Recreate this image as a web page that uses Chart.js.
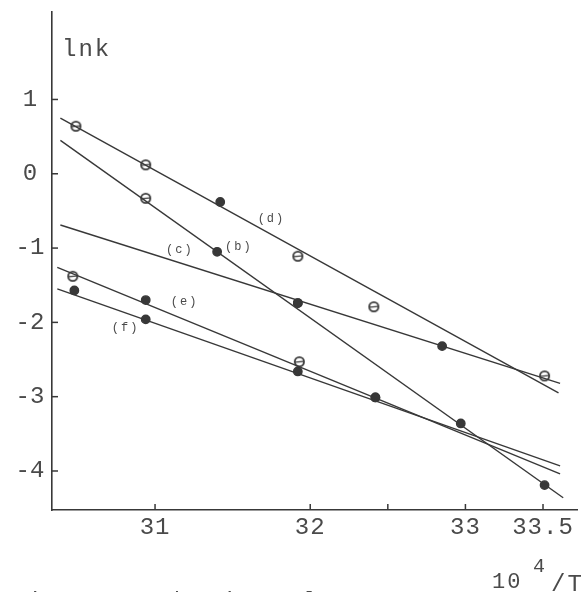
<!DOCTYPE html>
<html>
<head>
<meta charset="utf-8">
<script src="https://cdn.jsdelivr.net/npm/chart.js@4/dist/chart.umd.min.js"></script>
<style>
  html, body { margin: 0; padding: 0; background: #fff; }
  #wrap { width: 585px; height: 592px; }
</style>
</head>
<body>
<div id="wrap"><canvas id="myChart" width="585" height="592"></canvas></div>
<script>
// measured points, x = 10^4/T, y = lnk
var dX = [30.49, 30.94, 31.42, 31.92, 32.41];
var dY = [0.64, 0.12, -0.38, -1.11, -1.79];
var bX = [30.94, 31.40, 31.92, 32.97, 33.51];
var bY = [-0.33, -1.05, -1.74, -3.36, -4.19];
var cX = [31.92, 32.85, 33.51];
var cY = [-1.74, -2.32, -2.72];
var eX = [30.47, 30.94, 31.93, 32.42];
var eY = [-1.38, -1.70, -2.53, -3.01];
var fX = [30.48, 30.94, 31.92, 32.42];
var fY = [-1.57, -1.96, -2.66, -3.01];

// drawn straight lines, start and end
var dLine = [[30.39, 0.75], [33.60, -2.95]];
var bLine = [[30.39, 0.45], [33.63, -4.36]];
var cLine = [[30.39, -0.69], [33.61, -2.82]];
var eLine = [[30.37, -1.26], [33.61, -4.04]];
var fLine = [[30.37, -1.55], [33.61, -3.93]];

// curve labels and where they sit (data units)
var curveNames = ['(d)', '(c)', '(b)', '(e)', '(f)'];
var curveNameX = [31.75, 31.16, 31.54, 31.19, 30.81];
var curveNameY = [-0.60, -1.03, -0.99, -1.73, -2.08];

var xTicks = [31, 32, 32.5, 33, 33.5];
var xTickLabels = ['31', '32', '', '33', '33.5'];
var yTicks = [1, 0, -1, -2, -3, -4];
var yTickLabels = ['1', '0', '-1', '-2', '-3', '-4'];

// open (hollow) markers
var dOpen = [true, true, false, true, true];
var bOpen = [true, false, false, false, false];
var cOpen = [false, false, true];
var eOpen = [true, false, true, false];
var fOpen = [false, false, false, false];

var ink = '#383838';
var textInk = '#4a4a4a';
var mono = '"Liberation Mono", "DejaVu Sans Mono", monospace';

// hollow marker with a bar through it, like the typed theta on the paper
function makeHollow() {
    var c = document.createElement('canvas');
    c.width = 13; c.height = 13;
    var g = c.getContext('2d');
    g.strokeStyle = ink;
    g.fillStyle = '#fff';
    g.lineWidth = 1.8;
    g.beginPath();
    g.arc(6.5, 6.5, 4.6, 0, Math.PI * 2);
    g.fill();
    g.stroke();
    g.lineWidth = 1.2;
    g.beginPath();
    g.moveTo(2.5, 6.8);
    g.lineTo(10.5, 6.2);
    g.stroke();
    return c;
}
var hollow = makeHollow();

function pts(xs, ys) {
    return xs.map(function (x, i) { return { x: x, y: ys[i] }; });
}

function pointSet(xs, ys, open) {
    return {
        data: pts(xs, ys),
        showLine: false,
        pointStyle: open.map(function (o) { return o ? hollow : 'circle'; }),
        pointRadius: 4.2,
        pointBorderWidth: 1.4,
        pointBorderColor: ink,
        pointBackgroundColor: ink
    };
}

function lineSet(ends) {
    return {
        data: ends.map(function (p) { return { x: p[0], y: p[1] }; }),
        showLine: true,
        pointRadius: 0,
        borderColor: ink,
        borderWidth: 1.4
    };
}

var paper = {
    id: 'paper',
    afterDraw: function (chart) {
        var ctx = chart.ctx;
        var xs = chart.scales.x, ys = chart.scales.y;
        var area = chart.chartArea;
        ctx.save();
        ctx.strokeStyle = ink;
        ctx.lineWidth = 1.5;

        // inward tick marks
        yTicks.forEach(function (v) {
            var py = ys.getPixelForValue(v);
            ctx.beginPath();
            ctx.moveTo(area.left, py);
            ctx.lineTo(area.left + 6, py);
            ctx.stroke();
        });
        xTicks.forEach(function (v) {
            var px = xs.getPixelForValue(v);
            ctx.beginPath();
            ctx.moveTo(px, area.bottom);
            ctx.lineTo(px, area.bottom - 6);
            ctx.stroke();
        });

        ctx.fillStyle = textInk;
        ctx.font = '24px ' + mono;
        ctx.textAlign = 'center';
        ctx.textBaseline = 'middle';
        yTicks.forEach(function (v, i) {
            ctx.fillText(yTickLabels[i], 30, ys.getPixelForValue(v));
        });
        ctx.letterSpacing = '1px';
        xTicks.forEach(function (v, i) {
            ctx.fillText(xTickLabels[i], xs.getPixelForValue(v), area.bottom + 18);
        });

        // axis titles
        ctx.textAlign = 'left';
        ctx.textBaseline = 'alphabetic';
        ctx.letterSpacing = '2px';
        ctx.fillText('lnk', area.left + 10, area.top + 44);

        ctx.font = '22px ' + mono;
        ctx.fillText('10', 492, 588);
        ctx.font = '20px ' + mono;
        ctx.fillText('4', 533, 572);
        ctx.font = '24px ' + mono;
        ctx.fillText('/T', 551, 591);

        // caption, mostly below the bottom edge
        ctx.font = '22px ' + mono;
        ctx.letterSpacing = '3px';
        ctx.fillText('Fig.6  Arrhenius plots', 12, 607);

        // curve names
        ctx.font = '12px ' + mono;
        ctx.letterSpacing = '2px';
        ctx.textAlign = 'center';
        ctx.textBaseline = 'middle';
        curveNames.forEach(function (n, i) {
            ctx.fillText(n, xs.getPixelForValue(curveNameX[i]), ys.getPixelForValue(curveNameY[i]));
        });
        ctx.restore();
    }
};

document.addEventListener('DOMContentLoaded', function () {
    var ctx1 = document.getElementById('myChart').getContext('2d');

    var myChart1 = new Chart(ctx1, {
        type: 'scatter',
        data: {
            datasets: [
                lineSet(dLine), lineSet(bLine), lineSet(cLine), lineSet(eLine), lineSet(fLine),
                pointSet(dX, dY, dOpen), pointSet(bX, bY, bOpen), pointSet(cX, cY, cOpen),
                pointSet(eX, eY, eOpen), pointSet(fX, fY, fOpen)
            ]
        },
        options: {
            responsive: false,
            animation: false,
            layout: { padding: { top: 12, right: 8, left: 0, bottom: 0 } },
            plugins: {
                legend: { display: false },
                tooltip: { enabled: false }
            },
            scales: {
                x: {
                    type: 'linear',
                    min: 30.336,
                    max: 33.719,
                    ticks: { display: false },
                    grid: { display: true, drawOnChartArea: false, drawTicks: false },
                    border: { display: true, color: ink, width: 1.6 },
                    afterFit: function (s) { s.height = 82; }
                },
                y: {
                    type: 'linear',
                    min: -4.525,
                    max: 2.177,
                    ticks: { display: false },
                    grid: { display: true, drawOnChartArea: false, drawTicks: false },
                    border: { display: true, color: ink, width: 1.6 },
                    afterFit: function (s) { s.width = 52; }
                }
            }
        },
        plugins: [paper]
    });
});
</script>
</body>
</html>
